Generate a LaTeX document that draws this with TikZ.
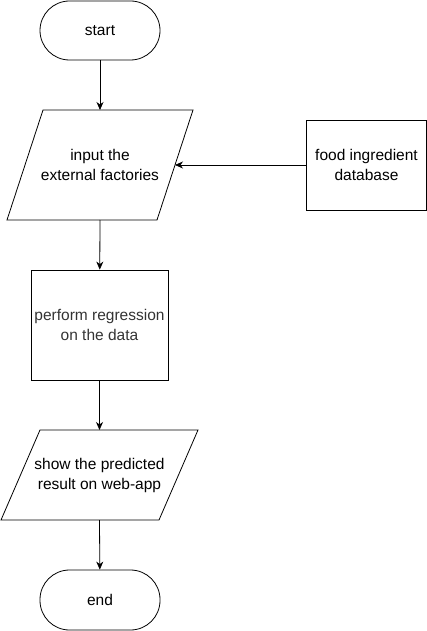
\documentclass[tikz,border=0pt]{standalone}
\usepackage{fontspec}
\setmainfont{Liberation Sans}
\usetikzlibrary{arrows.meta}

\tikzset{
  terminal/.style={draw, rounded corners=29.5pt, minimum width=120pt, minimum height=59pt, inner sep=0pt},
  iotext/.style={inner sep=0pt, align=center},
  procbox/.style={draw, rectangle, inner sep=0pt, align=center},
  flow/.style={-{Stealth[length=8pt,width=7pt,inset=2.5pt]}, line width=0.8pt}
}

\begin{document}
\begin{tikzpicture}[x=1pt,y=-1pt,line width=0.8pt,font=\fontsize{15.5}{20}\selectfont]
  \useasboundingbox (0,0) rectangle (427,631);

  \node[terminal] (start) at (100,30.5) {start};

  % input parallelogram
  \coordinate (inTL) at (43,110);
  \coordinate (inTR) at (193,110);
  \coordinate (inBR) at (157,220);
  \coordinate (inBL) at (7,220);
  \draw (inTL) -- (inTR) -- (inBR) -- (inBL) -- cycle;
  \coordinate (inTop) at (100,110);
  \coordinate (inBot) at (100,220);
  \coordinate (inRight) at (175,165);
  \node[iotext] (input) at (100,165) {input the\\external factories};

  \node[procbox, minimum width=120pt, minimum height=90pt] (db) at (366.5,165) {food ingredient\\database};
  \node[procbox, minimum width=137pt, minimum height=110pt, text=black!80] (regr) at (99.5,325) {perform regression\\on the data};

  % output parallelogram
  \coordinate (shTL) at (40,430);
  \coordinate (shTR) at (198,430);
  \coordinate (shBR) at (159,520);
  \coordinate (shBL) at (1,520);
  \draw (shTL) -- (shTR) -- (shBR) -- (shBL) -- cycle;
  \coordinate (shTop) at (99.5,430);
  \coordinate (shBot) at (99.5,520);
  \node[iotext] (show) at (99.5,475) {show the predicted\\result on web-app};

  \node[terminal, minimum height=60pt] (end) at (100,600) {end};

  \draw[flow] (start) -- (inTop);
  \draw[flow] (db) -- (inRight);
  \draw[flow] (inBot) -- (regr);
  \draw[flow] (regr) -- (shTop);
  \draw[flow] (shBot) -- (end);
\end{tikzpicture}
\end{document}
